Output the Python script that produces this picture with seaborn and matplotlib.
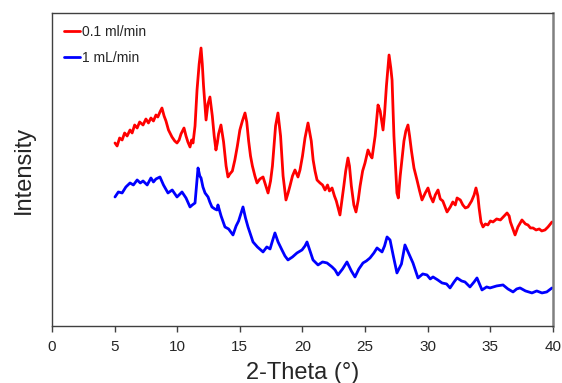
import matplotlib
matplotlib.use("Agg")
import matplotlib.pyplot as plt
import pandas as pd
import seaborn as sns

# 2-theta positions (deg) and intensities (a.u.)
theta_slow = [5.03, 5.2, 5.4, 5.6, 5.8, 6.0, 6.23, 6.4, 6.6, 6.8, 7.0, 7.27, 7.5, 7.7, 7.9,
              8.1, 8.3, 8.45, 8.62, 8.78, 8.95, 9.1, 9.3, 9.58, 9.8, 9.98, 10.15, 10.3, 10.54,
              10.7, 10.85, 11.02, 11.15, 11.26, 11.42, 11.58, 11.75, 11.9, 12.0, 12.1, 12.3,
              12.45, 12.61, 12.8, 12.95, 13.09, 13.2, 13.3, 13.49, 13.7, 13.9, 14.05, 14.2,
              14.4, 14.6, 14.8, 15.0, 15.2, 15.41, 15.55, 15.7, 15.85, 16.0, 16.2, 16.37, 16.6,
              16.85, 17.05, 17.25, 17.45, 17.6, 17.85, 18.04, 18.25, 18.45, 18.68, 18.85, 19.0,
              19.2, 19.4, 19.64, 19.8, 20.0, 20.2, 20.44, 20.7, 20.85, 21.0, 21.16, 21.4, 21.6,
              21.8, 22.0, 22.15, 22.36, 22.55, 22.7, 22.99, 23.15, 23.3, 23.45, 23.63, 23.75,
              23.9, 24.1, 24.27, 24.45, 24.6, 24.8, 24.99, 25.23, 25.4, 25.55, 25.8, 26.03,
              26.2, 26.43, 26.55, 26.7, 26.91, 27.05, 27.15, 27.3, 27.54, 27.65, 27.8, 28.1,
              28.25, 28.42, 28.55, 28.7, 28.9, 29.14, 29.35, 29.54, 29.8, 30.02, 30.2, 30.42,
              30.6, 30.82, 31.0, 31.2, 31.54, 31.8, 32.0, 32.2, 32.34, 32.6, 32.8, 33.0, 33.21,
              33.5, 33.7, 33.85, 34.0, 34.1, 34.25, 34.41, 34.6, 34.8, 35.0, 35.21, 35.5, 35.8,
              36.1, 36.33, 36.5, 36.6, 36.8, 36.97, 37.2, 37.52, 37.8, 38.0, 38.2, 38.4,
              38.65, 38.9, 39.1, 39.36, 39.6, 39.92]
int_slow = [183, 180, 188, 186, 193, 190, 196, 193, 201, 198, 204, 201, 207, 203, 208,
            205, 211, 209, 214, 218, 210, 205, 196, 189, 185, 183, 186, 192, 198,
            190, 184, 179, 186, 183, 200, 236, 262, 278, 262, 240, 206,
            222, 229, 210, 190, 176, 183, 192, 201, 184, 160, 149, 152,
            155, 166, 180, 196, 205, 213, 204, 185, 170, 160, 150, 143, 147,
            149, 141, 133, 145, 160, 200, 213, 190, 150, 126, 133, 140,
            150, 156, 149, 156, 170, 188, 203, 185, 166, 155, 146, 143, 141,
            136, 141, 135, 138, 130, 125, 111, 126, 140, 155, 168, 160,
            140, 121, 114, 126, 140, 155, 163, 176, 171, 168, 190, 221,
            215, 196, 212, 240, 271, 258, 246, 190, 133, 128, 150, 185,
            195, 201, 190, 175, 158, 146, 135, 126, 133, 138, 130, 124,
            131, 136, 127, 125, 114, 119, 124, 121, 128, 126, 121, 118, 119,
            125, 131, 138, 130, 118, 104, 99, 102, 101, 105, 104, 107, 106,
            110, 113, 110, 104, 97, 91, 99, 106, 102, 101, 98, 98,
            96, 97, 95, 96, 99, 104]

theta_fast = [5.03, 5.3, 5.6, 5.9, 6.23, 6.5, 6.8, 7.05, 7.27, 7.6, 7.9, 8.1, 8.3, 8.62,
              8.9, 9.26, 9.6, 9.98, 10.38, 10.7, 11.02, 11.2, 11.42, 11.66, 11.8, 11.9, 12.05,
              12.22, 12.46, 12.6, 12.77, 13.0, 13.17, 13.25, 13.5, 13.81, 14.1, 14.45, 14.7,
              14.9, 15.25, 15.45, 15.65, 16.05, 16.4, 16.85, 17.15, 17.41, 17.6, 17.8, 18.05,
              18.36, 18.6, 18.84, 19.2, 19.56, 19.96, 20.2, 20.36, 20.6, 20.84, 21.24, 21.6,
              21.96, 22.36, 22.6, 22.83, 23.2, 23.55, 23.9, 24.19, 24.5, 24.83, 25.1, 25.39,
              25.7, 25.95, 26.35, 26.55, 26.75, 26.99, 27.25, 27.54, 27.9, 28.18, 28.5, 28.82,
              29.22, 29.6, 29.94, 30.2, 30.42, 30.8, 31.14, 31.5, 31.78, 32.1, 32.34, 32.7,
              32.97, 33.37, 33.7, 33.93, 34.33, 34.7, 34.97, 35.5, 36.01, 36.4, 36.81, 37.1,
              37.37, 37.8, 38.32, 38.7, 39.12, 39.5, 39.92]
int_fast = [129, 134, 133, 139, 143, 141, 146, 143, 145, 141, 148, 144, 147, 149,
            141, 133, 136, 129, 134, 128, 119, 121, 123, 158, 150, 148, 139,
            133, 129, 124, 119, 117, 116, 121, 110, 99, 97, 91, 100,
            105, 119, 108, 99, 84, 79, 74, 79, 77, 85, 93, 84,
            76, 70, 66, 69, 73, 76, 80, 84, 75, 66, 61, 64,
            63, 59, 56, 51, 57, 64, 55, 49, 57, 63, 65, 68,
            73, 78, 74, 80, 89, 86, 70, 53, 62, 81, 72, 63,
            48, 52, 51, 47, 49, 46, 43, 42, 38, 44, 48, 45,
            44, 39, 44, 48, 36, 39, 38, 40, 41, 37, 34, 37,
            38, 35, 33, 35, 33, 34, 38]

labels = ["0.1 ml/min", "1 mL/min"]
colors = ["red", "blue"]

df = pd.concat([
    pd.DataFrame({"theta": theta_slow, "intensity": int_slow, "flow": labels[0]}),
    pd.DataFrame({"theta": theta_fast, "intensity": int_fast, "flow": labels[1]}),
])

sns.set_style("white")
plt.rcParams["font.family"] = ["Liberation Sans", "DejaVu Sans"]

fig = plt.figure(figsize=(5.62, 3.83), dpi=100)
ax = fig.add_axes([0.0925, 0.149, 0.8915, 0.817])

sns.lineplot(data=df, x="theta", y="intensity", hue="flow", hue_order=labels,
             palette=dict(zip(labels, colors)), linewidth=2.0, sort=False,
             estimator=None, ax=ax)

ax.set_xlim(0, 40)
ax.set_ylim(0, 313)
ax.set_xticks(range(0, 41, 5))
ax.set_yticks([])
ax.tick_params(axis="x", direction="out", length=4, width=1, color="#404040",
               labelsize=11, pad=6, bottom=True)
for side in ["left", "right", "top", "bottom"]:
    ax.spines[side].set_color("#404040")
    ax.spines[side].set_linewidth(1.0)
ax.spines["right"].set_color("#808080")
ax.spines["right"].set_linewidth(1.8)

ax.set_xlabel("2-Theta (°)", fontsize=17, labelpad=6)
ax.set_ylabel("Intensity", fontsize=17, labelpad=12)

leg = ax.legend(loc="upper left", frameon=False, fontsize=10, handlelength=1.2,
                handletextpad=0.1, labelspacing=0.9, borderaxespad=0.45)
for line in leg.get_lines():
    line.set_linewidth(2)

fig.savefig("out.png", dpi=100)
